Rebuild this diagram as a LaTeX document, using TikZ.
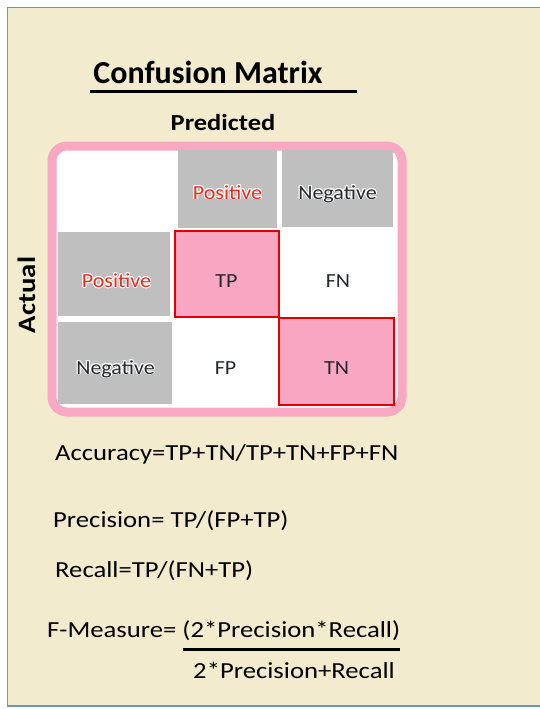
\documentclass[tikz,border=0pt]{standalone}
\usepackage{fontspec}
\setmainfont{Carlito}
\newfontfamily\formulafont[FakeStretch=1.16]{Carlito}
\newfontfamily\labelfont[FakeStretch=1.15]{Carlito}
\newfontfamily\cellfont[FakeStretch=1.1]{Carlito}
\usepackage[copies]{contour}
\contourlength{0.9pt}

\definecolor{cream}{RGB}{243,235,205}
\definecolor{framecol}{RGB}{105,150,200}
\definecolor{pinkband}{RGB}{249,168,196}
\definecolor{pinkcell}{RGB}{249,166,194}
\definecolor{redline}{RGB}{226,0,0}
\definecolor{graycell}{RGB}{191,191,191}
\definecolor{redtext}{RGB}{232,45,30}
\definecolor{darktext}{RGB}{38,40,48}

\tikzset{
  title/.style={font=\bfseries\fontsize{32}{32}\selectfont, inner sep=0pt},
  axislabel/.style={font=\labelfont\bfseries\fontsize{23}{23}\selectfont, inner sep=0pt},
  graybox/.style={fill=graycell, inner sep=0pt},
  hitbox/.style={fill=pinkcell, draw=redline, line width=2.6pt, inner sep=0pt},
  celltext/.style={font=\cellfont\fontsize{20}{20}\selectfont, inner sep=0pt, text=darktext, anchor=base},
  formula/.style={font=\formulafont\fontsize{23}{23}\selectfont, inner sep=0pt, anchor=base west},
}
% glowing header labels
\newcommand{\poslabel}{\contour{white}{\textcolor{redtext}{Positive}}}
\newcommand{\neglabel}{\contour{white}{\textcolor{darktext}{Negative}}}

\begin{document}
\begin{tikzpicture}[x=1pt,y=-1pt]
\useasboundingbox (0,0) rectangle (540,709);
% page and cream panel
\fill[white] (0,0) rectangle (540,709);
\fill[cream] (8,8) rectangle (540,706);
\draw[framecol, line width=1.6pt] (540,7.5) -- (7.5,7.5) -- (7.5,706) -- (540,706);

% heading
\node[title, anchor=base] (head) at (208,83) {Confusion Matrix};
\draw[line width=3pt] (90,91) -- (357,91);
\node[axislabel, anchor=base] (pred) at (223,130) {Predicted};
\node[axislabel, font=\labelfont\bfseries\fontsize{25}{25}\selectfont, anchor=base, rotate=90] (act) at (35,295) {Actual};

% pink rounded frame holding the matrix
\draw[pinkband, fill=white, line width=9pt, rounded corners=15pt] (52,146) rectangle (402,412);

% header cells
\path[graybox] (178,150) rectangle (277,228);
\node[celltext] (hpos) at (227.5,199) {\poslabel};
\path[graybox] (282,150) rectangle (393,227);
\node[celltext] (hneg) at (337.5,199) {\neglabel};

% row label cells
\path[graybox] (58,232) rectangle (170,316);
\node[celltext] (rpos) at (116.5,287.5) {\poslabel};
\path[graybox] (58,322) rectangle (172,404);
\node[celltext] (rneg) at (115.5,374) {\neglabel};

% outcome cells
\path[hitbox] (175,231) rectangle (279,317);
\node[celltext] (tp) at (226.5,287.5) {TP};
\node[celltext] (fn) at (338,287.5) {FN};
\node[celltext] (fp) at (225.5,374) {FP};
\path[hitbox] (279,318) rectangle (394,405);
\node[celltext] (tn) at (336.5,374) {TN};

% formulas
\node[formula] (acc) at (55,460) {Accuracy=TP+TN/TP+TN+FP+FN};
\node[formula] (prec) at (53,527) {Precision= TP/(FP+TP)};
\node[formula] (rec) at (55,577) {Recall=TP/(FN+TP)};
\node[formula] (fm) at (47,637) {F-Measure= (2*Precision*Recall)};
\draw[line width=3pt] (183,649) -- (400,649);
\node[formula, anchor=base] (den) at (294,678) {2*Precision+Recall};
\end{tikzpicture}
\end{document}
